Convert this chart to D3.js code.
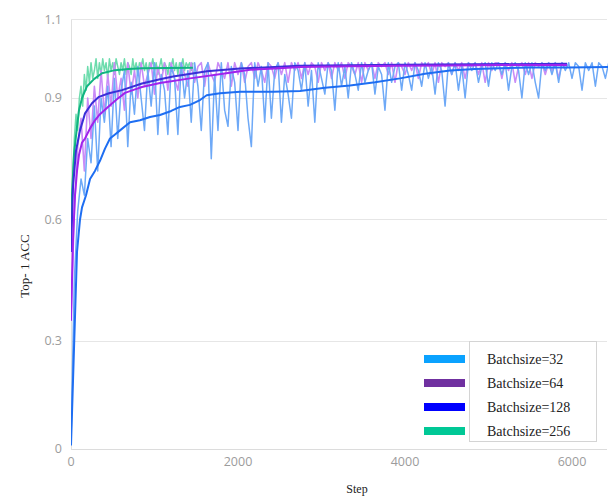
<!DOCTYPE html>
<html>
<head>
<meta charset="utf-8">
<script src="https://cdn.jsdelivr.net/npm/d3@7"></script>
<style>
html,body{margin:0;padding:0;background:#fff;}
svg{display:block;}
</style>
</head>
<body>
<div id="chart"></div>
<script>
// ---------- data ----------
const seriesNames = ["Batchsize=32", "Batchsize=64", "Batchsize=128", "Batchsize=256"];
const legendColors = ["#0aa2ff", "#7030a0", "#0000ff", "#00c896"];
const xTicks = [0, 2000, 4000, 6000];
const yTicks = [0, 0.3, 0.6, 0.9, 1.1];
const yTickLabels = ["0", "0.3", "0.6", "0.9", "1.1"];

// raw (noisy) curves, one value every rawStep steps
const rawStep32 = 40;
const raw32 = [
  0.02,0.45,0.62,0.70,0.66,0.80,0.74,0.88,0.72,0.90,
  0.84,0.93,0.78,0.95,0.80,0.92,0.97,0.78,0.94,0.86,
  0.98,0.90,0.82,0.97,0.88,0.99,0.81,0.96,0.92,0.81,
  0.98,0.95,0.81,0.99,0.90,0.97,0.84,0.99,0.93,0.82,
  0.97,0.99,0.75,0.96,0.82,0.99,0.87,0.83,0.98,0.94,
  0.82,0.99,0.96,0.85,0.78,0.99,0.93,0.98,0.84,0.99,
  0.85,0.97,0.99,0.84,0.96,0.91,0.85,0.99,0.97,0.92,
  0.99,0.88,0.97,0.84,0.99,0.95,0.91,0.99,0.97,0.87,
  0.99,0.93,0.98,0.90,0.99,0.96,0.92,0.99,0.94,0.97,
  0.99,0.91,0.98,0.96,0.87,0.99,0.94,0.98,0.99,0.92,
  0.99,0.96,0.92,0.99,0.97,0.93,0.99,0.95,0.98,0.91,
  0.99,0.97,0.88,0.99,0.96,0.99,0.92,0.98,0.90,0.99,
  0.97,0.99,0.94,0.98,0.99,0.93,0.99,0.97,0.99,0.96,
  0.99,0.92,0.98,0.99,0.97,0.90,0.99,0.96,0.99,0.94,
  0.90,0.99,0.97,0.99,0.96,0.99,0.94,0.99,0.97,0.99,
  0.95,0.99,0.98,0.92,0.99,0.97,0.99,0.93,0.99,0.98,0.95,0.99
];
const rawStep64 = 40;
const raw64 = [
  0.35,0.62,0.78,0.85,0.72,0.90,0.80,0.93,0.84,0.97,
  0.86,0.96,0.88,0.99,0.90,0.95,0.87,0.99,0.91,0.97,
  0.90,0.99,0.93,0.96,0.99,0.91,0.98,0.94,0.99,0.92,
  0.99,0.95,0.92,0.99,0.96,0.93,0.99,0.94,0.98,0.99,
  0.93,0.99,0.96,0.94,0.99,0.97,0.95,0.99,0.93,0.99,
  0.96,0.99,0.94,0.98,0.99,0.95,0.99,0.97,0.94,0.99,
  0.98,0.95,0.99,0.96,0.99,0.94,0.99,0.97,0.99,0.95,
  0.99,0.96,0.99,0.98,0.94,0.99,0.97,0.99,0.95,0.99,
  0.97,0.99,0.95,0.99,0.98,0.96,0.99,0.94,0.99,0.97,
  0.99,0.95,0.99,0.98,0.99,0.96,0.99,0.94,0.99,0.98,
  0.96,0.99,0.97,0.99,0.95,0.99,0.98,0.99,0.96,0.99,
  0.94,0.99,0.98,0.99,0.96,0.99,0.97,0.99,0.95,0.99,
  0.98,0.99,0.96,0.99,0.94,0.99,0.97,0.99,0.99,0.95,
  0.99,0.97,0.99,0.94,0.98,0.99,0.96,0.99,0.95,0.99,
  0.98,0.99,0.96,0.99,0.97,0.99,0.95,0.99,0.98
];
const rawStep256 = 20;
const raw256 = [
  0.55,0.70,0.80,0.86,0.82,0.90,0.93,0.88,0.96,0.92,
  0.98,0.94,0.99,0.95,0.97,1.00,0.95,0.99,0.96,1.00,
  0.97,0.99,0.95,1.00,0.97,0.99,0.96,1.00,0.98,0.96,
  0.99,0.97,1.00,0.96,0.99,0.98,0.96,1.00,0.97,0.99,
  0.96,0.99,0.98,1.00,0.97,0.99,0.96,0.99,0.98,1.00,
  0.97,0.99,0.96,0.98,1.00,0.97,0.99,0.98,0.96,0.99,
  0.98,1.00,0.97,0.99,0.96,0.99,0.98,1.00,0.97,0.99,
  0.98,0.99,0.97,0.99
];

// smoothed curves: [step, value]
const smooth32 = [[0,0.01],[72,0.52],[108,0.60],[132,0.63],[180,0.66],[228,0.70],[287,0.72],[347,0.745],[407,0.775],[467,0.80],[527,0.81],[587,0.82],[707,0.84],[826,0.845],[946,0.853],[1066,0.858],[1200,0.868],[1305,0.878],[1425,0.883],[1545,0.895],[1625,0.907],[1785,0.912],[2024,0.916],[2420,0.916],[2743,0.918],[3042,0.926],[3341,0.932],[3641,0.94],[3940,0.95],[4240,0.962],[4539,0.97],[4838,0.974],[5138,0.976],[5497,0.978],[5940,0.978],[6460,0.979]];
const smooth64 = [[0,0.35],[12,0.45],[24,0.55],[48,0.66],[72,0.72],[96,0.76],[132,0.79],[168,0.80],[228,0.825],[287,0.845],[347,0.86],[443,0.878],[539,0.895],[647,0.913],[766,0.922],[850,0.928],[1066,0.938],[1425,0.95],[1820,0.962],[2144,0.972],[2443,0.975],[2743,0.979],[3341,0.981],[3940,0.982],[4539,0.983],[5138,0.984],[5940,0.984]];
const smooth128 = [[0,0.52],[24,0.68],[60,0.77],[108,0.82],[168,0.862],[251,0.887],[335,0.903],[455,0.912],[611,0.92],[850,0.937],[1066,0.948],[1222,0.955],[1628,0.968],[2024,0.975],[2743,0.982],[3940,0.985],[5940,0.987]];
const smooth256 = [[0,0.55],[12,0.66],[36,0.76],[72,0.83],[96,0.87],[132,0.90],[192,0.93],[275,0.948],[371,0.963],[527,0.971],[690,0.974],[850,0.976],[1460,0.977]];

// ---------- chart ----------
const W = 608, H = 497;
const svg = d3.select("#chart").append("svg").attr("width", W).attr("height", H);

const x = d3.scaleLinear().domain([0, 6000]).range([71, 572]);
const y = d3.scaleLinear().domain([0, 0.3, 0.6, 0.9, 1.1]).range([449, 341, 219.5, 98, 19.5]);
const plotL = 71, plotR = 607, plotT = 19.5, plotB = 449;

// gridlines
svg.append("g").selectAll("line").data(yTicks).join("line")
  .attr("x1", plotL).attr("x2", plotR)
  .attr("y1", d => y(d)).attr("y2", d => y(d))
  .attr("stroke", d => d === 0 ? "#dcdcdc" : "#e6e6e6").attr("stroke-width", 1)
  .attr("shape-rendering", "crispEdges");
svg.append("line").attr("x1", plotL).attr("x2", plotL).attr("y1", plotT).attr("y2", plotB)
  .attr("stroke", "#e0e0e0").attr("shape-rendering", "crispEdges");

// y tick labels
svg.append("g").selectAll("text").data(yTicks).join("text")
  .attr("x", 62).attr("y", d => y(d)).attr("dy", "0.35em")
  .attr("text-anchor", "end")
  .attr("font-family", "'Open Sans', sans-serif").attr("font-size", 12.5).attr("fill", "#9c9c9c")
  .text((d, i) => yTickLabels[i]);
// x tick labels
svg.append("g").selectAll("text").data(xTicks).join("text")
  .attr("x", d => x(d)).attr("y", 462).attr("dy", "0.35em")
  .attr("text-anchor", "middle")
  .attr("font-family", "'Open Sans', sans-serif").attr("font-size", 12.5).attr("fill", "#9c9c9c")
  .text(d => d);

// titles
svg.append("text").attr("transform", "translate(29,266) rotate(-90)")
  .attr("text-anchor", "middle").attr("font-family", "'Liberation Serif', serif")
  .attr("font-size", 13).attr("fill", "#222").text("Top- 1 ACC");
svg.append("text").attr("x", 357).attr("y", 493)
  .attr("text-anchor", "middle").attr("font-family", "'Liberation Serif', serif")
  .attr("font-size", 12).attr("fill", "#222").text("Step");

// clip
svg.append("clipPath").attr("id", "clip").append("rect")
  .attr("x", plotL).attr("y", 0).attr("width", plotR - plotL + 1).attr("height", plotB + 1);
const g = svg.append("g").attr("clip-path", "url(#clip)");

const line = d3.line().x(d => x(d[0])).y(d => y(d[1]));
const toPts = (arr, step) => arr.map((v, i) => [i * step, v]);

const layers = [
  {pts: toPts(raw256, rawStep256), color: "#6ddcad", w: 1.5},
  {pts: toPts(raw64, rawStep64), color: "#c98cf7", w: 1.6},
  {pts: toPts(raw32, rawStep32), color: "#6ea9f7", w: 1.5},
  {pts: smooth256, color: "#10b482", w: 2},
  {pts: smooth128, color: "#3a2fd8", w: 2},
  {pts: smooth64, color: "#a023ec", w: 2},
  {pts: smooth32, color: "#1e6ef2", w: 2}
];
layers.forEach(l => {
  g.append("path").datum(l.pts).attr("d", line)
    .attr("fill", "none").attr("stroke", l.color).attr("stroke-width", l.w)
    .attr("stroke-linejoin", "round");
});

// legend
const lg = svg.append("g");
lg.append("rect").attr("x", 469.5).attr("y", 341.5).attr("width", 127).attr("height", 100)
  .attr("fill", "#fff").attr("stroke", "#d4d4d4");
const rowY = [359, 383, 407, 431];
seriesNames.forEach((n, i) => {
  lg.append("rect").attr("x", 424).attr("y", rowY[i] - 4).attr("width", 41).attr("height", 8)
    .attr("fill", legendColors[i]);
  lg.append("text").attr("x", 487).attr("y", rowY[i]).attr("dy", "0.35em")
    .attr("font-family", "'Liberation Serif', serif").attr("font-size", 14).attr("fill", "#222")
    .text(n);
});
</script>
</body>
</html>
